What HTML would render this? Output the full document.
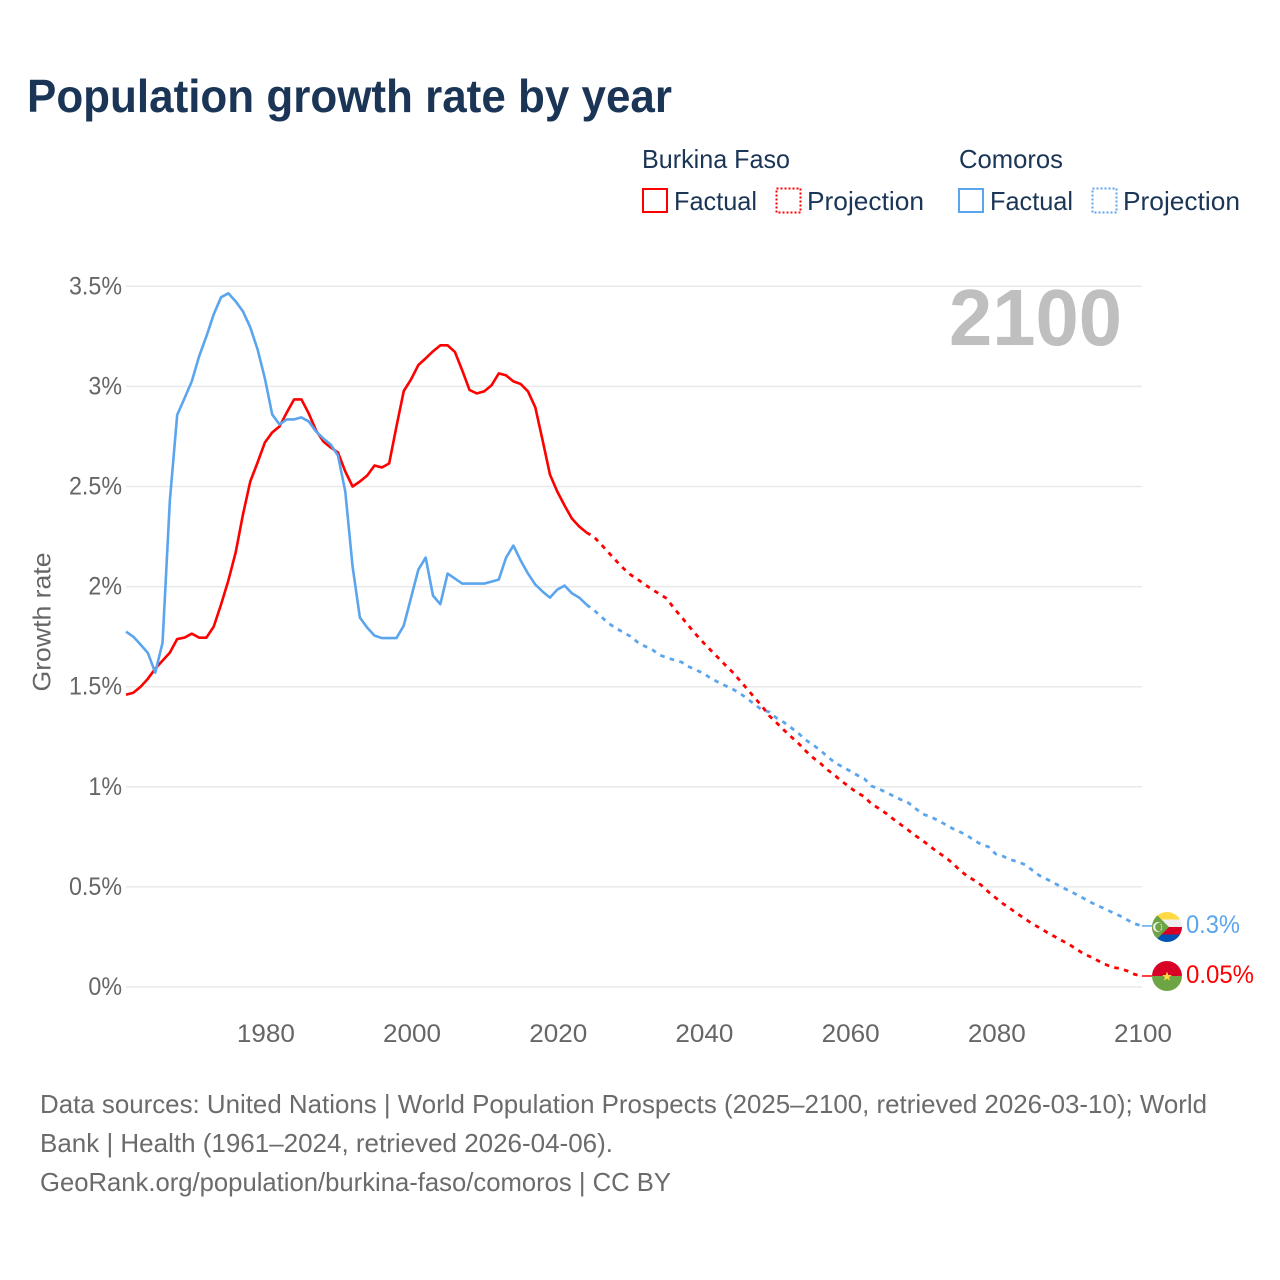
<!DOCTYPE html>
<html lang="en">
<head>
<meta charset="utf-8">
<title>Population growth rate by year</title>
<style>
html,body{margin:0;padding:0;background:#fff}
svg{display:block}
text{font-family:"Liberation Sans",sans-serif}
</style>
</head>
<body>
<svg id="chart" xmlns="http://www.w3.org/2000/svg" width="1280" height="1280" viewBox="0 0 1280 1280">
<defs>
<clipPath id="clip-comoros"><circle cx="1167" cy="927" r="15"/></clipPath>
<clipPath id="clip-burkina"><circle cx="1167" cy="976" r="15"/></clipPath>
</defs>
<rect x="0" y="0" width="1280" height="1280" fill="#ffffff"/>
<text x="27" y="112" font-size="46" font-weight="700" fill="#1b3556" textLength="645" lengthAdjust="spacingAndGlyphs">Population growth rate by year</text>

<g font-size="26" fill="#1b3556">
<text x="642" y="168" textLength="148" lengthAdjust="spacingAndGlyphs">Burkina Faso</text>
<text x="959" y="168" textLength="104" lengthAdjust="spacingAndGlyphs">Comoros</text>
<rect x="643" y="189" width="24" height="23" fill="none" stroke="#ff0000" stroke-width="2"/>
<text x="674" y="210" textLength="83" lengthAdjust="spacingAndGlyphs">Factual</text>
<rect x="776.5" y="188.5" width="24" height="24" fill="none" stroke="#ff0000" stroke-width="2" stroke-dasharray="2 2"/>
<text x="807" y="210" textLength="117" lengthAdjust="spacingAndGlyphs">Projection</text>
<rect x="959" y="189" width="24" height="23" fill="none" stroke="#5ba5ee" stroke-width="2"/>
<text x="990" y="210" textLength="83" lengthAdjust="spacingAndGlyphs">Factual</text>
<rect x="1092.5" y="188.5" width="24" height="24" fill="none" stroke="#5ba5ee" stroke-width="2" stroke-dasharray="2 2"/>
<text x="1123" y="210" textLength="117" lengthAdjust="spacingAndGlyphs">Projection</text>
</g>

<g id="grid"></g>
<g id="y-ticks"></g>
<g id="x-ticks"></g>

<text x="0" y="0" transform="translate(50.5,622) rotate(-90)" text-anchor="middle" font-size="25" fill="#666666" textLength="139" lengthAdjust="spacingAndGlyphs">Growth rate</text>

<text x="949" y="345" font-size="80" font-weight="700" fill="#bfbfbf" textLength="173" lengthAdjust="spacingAndGlyphs">2100</text>

<g id="series"></g>

<g clip-path="url(#clip-comoros)">
<rect x="1152" y="912" width="30" height="8" fill="#ffda44"/>
<rect x="1152" y="919.5" width="30" height="8" fill="#f0f0f0"/>
<rect x="1152" y="927" width="30" height="8" fill="#d80027"/>
<rect x="1152" y="934.5" width="30" height="8" fill="#0052b4"/>
<polygon points="1152,910 1169,927 1152,944" fill="#6da544"/>
<circle cx="1158" cy="927" r="5" fill="#f0f0f0"/>
<circle cx="1159.6" cy="927" r="4.4" fill="#6da544"/>
<circle cx="1161" cy="924.5" r="0.6" fill="#f0f0f0"/>
<circle cx="1161.6" cy="926.2" r="0.6" fill="#f0f0f0"/>
<circle cx="1161.6" cy="928" r="0.6" fill="#f0f0f0"/>
<circle cx="1161" cy="929.6" r="0.6" fill="#f0f0f0"/>
</g>
<g clip-path="url(#clip-burkina)">
<rect x="1152" y="961" width="30" height="15" fill="#d80027"/>
<rect x="1152" y="976" width="30" height="15" fill="#6da544"/>
<polygon points="1167,971.5 1168.3,975 1172,975 1169,977.2 1170.1,980.8 1167,978.6 1163.9,980.8 1165,977.2 1162,975 1165.7,975" fill="#ffda44"/>
</g>

<text x="1186" y="933" font-size="25" fill="#5ba5ee" textLength="54" lengthAdjust="spacingAndGlyphs">0.3%</text>
<text x="1186" y="983" font-size="25" fill="#ff0000" textLength="68" lengthAdjust="spacingAndGlyphs">0.05%</text>

<g font-size="26" fill="#6b6b6b">
<text x="40" y="1113" textLength="1167" lengthAdjust="spacingAndGlyphs">Data sources: United Nations | World Population Prospects (2025–2100, retrieved 2026-03-10); World</text>
<text x="40" y="1152" textLength="573" lengthAdjust="spacingAndGlyphs">Bank | Health (1961–2024, retrieved 2026-04-06).</text>
<text x="40" y="1191" textLength="631" lengthAdjust="spacingAndGlyphs">GeoRank.org/population/burkina-faso/comoros | CC BY</text>
</g>
</svg>

<script>
const factualStartYear = 1961;
const projectionStartYear = 2024;
const yTickValues = [0, 0.5, 1, 1.5, 2, 2.5, 3, 3.5];
const yTickLabels = ["0%", "0.5%", "1%", "1.5%", "2%", "2.5%", "3%", "3.5%"];
const xTickYears = [1980, 2000, 2020, 2040, 2060, 2080, 2100];

const burkinaFactual = [
1.46,1.47,1.50,1.54,1.59,1.63,1.67,1.738,1.745,1.765,
1.745,1.745,1.80,1.91,2.03,2.17,2.36,2.525,2.62,2.72,
2.77,2.80,2.87,2.935,2.935,2.865,2.78,2.725,2.695,2.67,
2.575,2.50,2.525,2.555,2.605,2.595,2.615,2.80,2.977,3.035,
3.107,3.14,3.175,3.205,3.205,3.172,3.08,2.982,2.965,2.975,
3.005,3.065,3.055,3.025,3.012,2.975,2.895,2.73,2.56,2.475,
2.405,2.34,2.30,2.27];

const comorosFactual = [
1.775,1.75,1.71,1.668,1.57,1.72,2.43,2.857,2.94,3.025,
3.15,3.25,3.36,3.445,3.465,3.425,3.375,3.295,3.185,3.04,
2.86,2.81,2.835,2.835,2.845,2.825,2.775,2.74,2.71,2.655,
2.475,2.10,1.845,1.795,1.755,1.743,1.743,1.743,1.805,1.945,
2.085,2.145,1.955,1.912,2.065,2.04,2.015,2.015,2.015,2.015,
2.025,2.035,2.145,2.205,2.13,2.065,2.01,1.975,1.945,1.985,
2.005,1.967,1.945,1.91];

const burkinaProjection = [
2.27,2.249,2.211,2.171,2.131,2.093,2.06,2.036,2.01,1.985,
1.963,1.94,1.89,1.848,1.803,1.76,1.72,1.682,1.645,1.608,
1.572,1.53,1.488,1.445,1.403,1.355,1.32,1.284,1.25,1.217,
1.179,1.145,1.117,1.084,1.056,1.026,0.998,0.971,0.951,0.914,
0.892,0.867,0.838,0.811,0.784,0.756,0.731,0.703,0.674,0.651,
0.621,0.586,0.556,0.534,0.509,0.475,0.445,0.416,0.391,0.365,
0.34,0.316,0.295,0.273,0.253,0.233,0.213,0.19,0.166,0.15,
0.131,0.113,0.098,0.093,0.08,0.063,0.055];

const comorosProjection = [
1.91,1.883,1.85,1.817,1.793,1.772,1.752,1.722,1.702,1.685,
1.658,1.645,1.633,1.623,1.60,1.583,1.567,1.542,1.523,1.505,
1.488,1.467,1.44,1.412,1.384,1.374,1.344,1.322,1.295,1.267,
1.234,1.209,1.182,1.15,1.12,1.10,1.08,1.059,1.041,1.004,
0.99,0.972,0.954,0.936,0.921,0.892,0.864,0.851,0.834,0.814,
0.793,0.776,0.759,0.733,0.713,0.70,0.664,0.653,0.636,0.626,
0.611,0.583,0.556,0.538,0.519,0.499,0.481,0.463,0.443,0.423,
0.405,0.39,0.371,0.355,0.335,0.316,0.305];

const SVG_NS = "http://www.w3.org/2000/svg";
const RED = "#ff0000";
const BLUE = "#5ba5ee";
function xScale(year) { return 126 + (year - 1961) * (1016 / 139); }
function yScale(value) { return 987 - value * 200.2; }

function pointsFor(values, startYear) {
  return values.map(function (v, i) {
    return xScale(startYear + i).toFixed(2) + "," + yScale(v).toFixed(2);
  }).join(" ");
}

const gridGroup = document.getElementById("grid");
const yTickGroup = document.getElementById("y-ticks");
const xTickGroup = document.getElementById("x-ticks");
const seriesGroup = document.getElementById("series");

yTickValues.forEach(function (value, i) {
  const line = document.createElementNS(SVG_NS, "line");
  line.setAttribute("x1", xScale(1961));
  line.setAttribute("x2", xScale(2100));
  line.setAttribute("y1", yScale(value));
  line.setAttribute("y2", yScale(value));
  line.setAttribute("stroke", "#e9e9e9");
  line.setAttribute("stroke-width", "1.5");
  
  
  gridGroup.appendChild(line);

  const label = document.createElementNS(SVG_NS, "text");
  label.setAttribute("y", yScale(value) + 8);
  label.setAttribute("font-size", "25");
  label.setAttribute("fill", "#666666");
  label.setAttribute("lengthAdjust", "spacingAndGlyphs");
  label.textContent = yTickLabels[i];
  
  
  yTickGroup.appendChild(label);
  const labelWidth = label.getComputedTextLength() * 0.93;
  label.setAttribute("textLength", labelWidth.toFixed(1));
  label.setAttribute("x", (122 - labelWidth).toFixed(1));
});

xTickYears.forEach(function (year) {
  const label = document.createElementNS(SVG_NS, "text");
  label.setAttribute("x", xScale(year) - 28);
  label.setAttribute("y", 1042);
  label.setAttribute("font-size", "25");
  label.setAttribute("fill", "#666666");
  label.setAttribute("textLength", "58");
  label.setAttribute("lengthAdjust", "spacingAndGlyphs");
  label.textContent = String(year);
  
  
  xTickGroup.appendChild(label);
});

function drawFactual(values, color, name) {
  const line = document.createElementNS(SVG_NS, "polyline");
  line.setAttribute("points", pointsFor(values, factualStartYear));
  line.setAttribute("fill", "none");
  line.setAttribute("stroke", color);
  line.setAttribute("stroke-width", "2.6");
  line.setAttribute("stroke-linejoin", "round");
  
  
  seriesGroup.appendChild(line);
}

function drawProjection(values, color, name) {
  const line = document.createElementNS(SVG_NS, "polyline");
  line.setAttribute("points", pointsFor(values, projectionStartYear));
  line.setAttribute("fill", "none");
  line.setAttribute("stroke", color);
  line.setAttribute("stroke-width", "2.8");
  line.setAttribute("stroke-dasharray", "4.6 5.4");
  
  
  seriesGroup.appendChild(line);
}

function drawConnector(values, color, name) {
  const last = values[values.length - 1];
  const line = document.createElementNS(SVG_NS, "line");
  line.setAttribute("x1", xScale(2100));
  line.setAttribute("x2", xScale(2100) + 11);
  line.setAttribute("y1", yScale(last));
  line.setAttribute("y2", yScale(last));
  line.setAttribute("stroke", color);
  line.setAttribute("stroke-width", "1.5");
  
  
  seriesGroup.appendChild(line);
}

drawProjection(comorosProjection, BLUE, "comoros-projection-line");
drawProjection(burkinaProjection, RED, "burkina-faso-projection-line");
drawFactual(burkinaFactual, RED, "burkina-faso-factual-line");
drawFactual(comorosFactual, BLUE, "comoros-factual-line");
drawConnector(comorosProjection, BLUE, "comoros-flag-connector");
drawConnector(burkinaProjection, RED, "burkina-faso-flag-connector");
</script>
</body>
</html>
